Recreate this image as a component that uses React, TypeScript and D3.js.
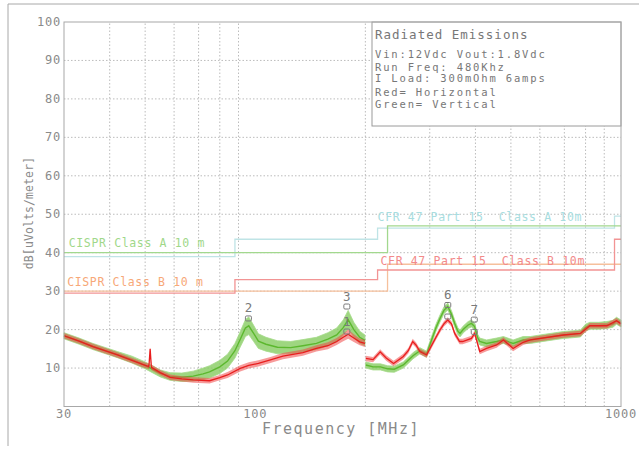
import React from "react";
import * as d3 from "d3";

// ---- Data ----
const xTickLabels = [30, 100, 1000];
const xGrid = [40, 50, 60, 70, 80, 90, 200, 300, 400, 500, 600, 700, 800, 900];
const yTicks = [10, 20, 30, 40, 50, 60, 70, 80, 90, 100];
const yGrid = [10, 20, 30, 40, 50, 60, 70, 80, 90];

// Limit lines [MHz, dB] (step-after)
const cisprA = [[30, 40], [230, 47], [1000, 47]];
const cisprB = [[30, 30], [230, 37], [1000, 37]];
const fccA = [[30, 39], [88, 43.5], [216, 46.4], [960, 49.5], [1000, 49.5]];
const fccB = [[30, 29.5], [88, 33], [216, 35.5], [960, 43.5], [1000, 43.5]];

// Measured traces: [MHz, dB centre, dB noise half-spread]; null = sweep break
const greenVertical: ([number, number, number] | null)[] = [
  [30, 18.4, 0.8], [33, 17.0, 0.8], [36, 15.6, 0.8], [42, 13.5, 0.8], [46, 12.2, 0.9],
  [50, 10.7, 0.9], [55, 8.6, 0.9], [58.5, 7.8, 1.0], [63, 7.6, 1.1], [67.7, 7.9, 1.3],
  [72, 8.5, 1.5], [75, 9.0, 1.6], [80, 10.3, 1.7], [84, 11.8, 1.8], [88, 14.5, 1.9],
  [91, 17.5, 2.0], [94, 20.4, 2.2], [96, 21.0, 2.3], [99, 19.0, 2.1], [102, 17.0, 1.9],
  [107, 16.2, 1.8], [115, 15.4, 1.7], [125, 15.3, 1.6], [135, 15.8, 1.6], [147, 16.4, 1.6],
  [158, 17.5, 1.7], [167, 18.6, 1.8], [174, 20.5, 2.0], [179.5, 22.6, 2.4], [186, 20.0, 1.9],
  [193, 18.0, 1.6], [199.5, 17.2, 1.4],
  null,
  [200.5, 10.8, 0.8], [210, 10.3, 0.8], [220, 10.3, 0.8], [230, 9.8, 0.8], [240, 9.7, 0.8],
  [254, 10.8, 0.8], [262, 12.0, 0.8], [270, 13.2, 0.8], [282, 14.5, 0.8], [294, 13.6, 0.8],
  [304, 17.5, 0.9], [312, 20.5, 0.9], [320, 22.9, 0.9], [328, 25.0, 0.9], [336, 26.0, 0.9],
  [344, 24.0, 0.9], [351, 21.6, 0.9], [358, 19.6, 0.9], [363, 19.0, 0.9], [370, 20.0, 0.9],
  [382, 21.2, 0.9], [390, 21.6, 0.9], [398, 20.8, 0.9], [405, 18.0, 0.9], [411, 16.9, 0.9],
  [429, 16.4, 0.9], [457, 16.9, 0.9], [477, 17.3, 0.9], [507, 16.4, 0.9], [540, 17.3, 0.9],
  [565, 17.3, 0.9], [620, 17.9, 0.9], [696, 18.6, 0.9], [740, 18.8, 0.9], [775, 19.0, 0.9],
  [800, 20.5, 0.9], [822, 21.0, 0.9], [870, 21.0, 0.9], [915, 21.2, 0.9], [950, 21.5, 0.9],
  [972, 22.3, 0.9], [1000, 21.6, 0.9],
];

const redHorizontal: ([number, number, number] | null)[] = [
  [30, 18.4, 0.7], [33, 17.0, 0.7], [36, 15.6, 0.7], [42, 13.4, 0.7], [46, 12.0, 0.7],
  [49, 11.0, 0.7], [51.2, 10.4, 0.7], [51.6, 15.0, 0.3], [52, 10.2, 0.7], [55, 8.8, 0.7],
  [58.5, 7.6, 0.7], [63, 7.2, 0.7], [67.7, 6.9, 0.7], [75, 6.7, 0.7], [80, 7.5, 0.7],
  [84, 8.2, 0.8], [91, 9.9, 0.8], [96, 10.7, 0.8], [102, 11.2, 0.8], [110, 12.1, 0.8],
  [119, 13.1, 0.8], [135, 14.0, 0.8], [147, 15.1, 0.8], [158, 15.8, 0.9], [167, 16.9, 0.9],
  [174, 18.0, 1.0], [179.5, 18.8, 1.2], [186, 17.8, 1.0], [193, 16.8, 0.9], [199.5, 16.4, 0.9],
  null,
  [200.5, 12.5, 0.7], [210, 12.2, 0.7], [219.6, 14.2, 0.7], [228, 12.6, 0.7], [238.9, 11.2, 0.7],
  [254, 13.0, 0.7], [262, 14.5, 0.7], [269.5, 16.9, 0.7], [275, 16.0, 0.7], [282, 14.3, 0.7],
  [294, 13.4, 0.7], [304, 16.0, 0.7], [312, 18.0, 0.7], [320, 19.9, 0.7], [328, 21.5, 0.7],
  [336, 22.5, 0.7], [344, 21.5, 0.7], [351, 19.0, 0.7], [362, 16.9, 0.7], [369, 16.9, 0.7],
  [390, 17.7, 0.7], [398, 19.0, 0.7], [405, 16.5, 0.7], [411, 14.3, 0.7], [429, 15.1, 0.7],
  [457, 16.0, 0.7], [477, 17.3, 0.7], [507, 15.1, 0.7], [540, 16.7, 0.7], [565, 17.3, 0.7],
  [696, 18.6, 0.7], [775, 19.0, 0.7], [822, 21.0, 0.7], [915, 21.0, 0.7], [972, 22.3, 0.7],
  [1000, 21.5, 0.7],
];

// Markers
const markerFreq = [95.8, 178, 178, 336, 336, 397, 397];
const markerDb = [22.9, 26.0, 19.5, 26.4, 23.4, 22.6, 19.4];
const markerLabel = ["2", "3", "1", "6", "", "7", ""];

// Limit labels
const limitLabels = [
  { text: "CISPR Class A 10 m", f: 30.9, db: 42.5, color: "#9fd88a" },
  { text: "CISPR Class B 10 m", f: 30.6, db: 32.5, color: "#f7a878" },
  { text: "CFR 47 Part 15  Class A 10m", f: 216, db: 49.3, color: "#a8dde0" },
  { text: "CFR 47 Part 15  Class B 10m", f: 220, db: 37.8, color: "#f28a8a" },
];

const infoTitle = "Radiated Emissions";
const infoLines = [
  "Vin:12Vdc Vout:1.8Vdc",
  "Run Freq: 480Khz",
  "I Load: 300mOhm 6amps",
  "Red= Horizontal",
  "Green= Vertical",
];

const FONT = "'DejaVu Sans Mono', monospace";

export default function App() {
  const W = 639, H = 458;
  const x = d3.scaleLog().domain([30, 1000]).range([64, 621]);
  const y = d3.scaleLinear().domain([0, 100]).range([406.5, 22]);
  const [x0, x1] = x.range();
  const [y0, y1] = y.range();

  const step = d3.line<number[]>().x(d => x(d[0])).y(d => y(d[1])).curve(d3.curveStepAfter);

  type P = [number, number, number] | null;
  const area = d3.area<P>()
    .defined(d => d !== null)
    .x(d => x((d as any)[0]))
    .y0(d => y((d as any)[1] - (d as any)[2]))
    .y1(d => y((d as any)[1] + (d as any)[2]));
  const line = d3.line<P>()
    .defined(d => d !== null)
    .x(d => x((d as any)[0]))
    .y(d => y((d as any)[1]));

  const gridColor = "#b4b4b4";
  const textColor = "#8a8a8a";
  const infoY = [54.3, 66.7, 78.3, 91.7, 104.3];

  return (
    <svg width={W} height={H} style={{ position: "absolute", left: 0, top: 0, background: "#fff" }}
      fontFamily={FONT}>
      {/* outer frame */}
      <line x1={8} y1={4} x2={W} y2={4} stroke="#a8a8a8" />
      <line x1={8} y1={4} x2={8} y2={446} stroke="#a8a8a8" />

      {/* grid */}
      {xGrid.map(f => (
        <line key={"gx" + f} x1={x(f)} x2={x(f)} y1={y0} y2={y1} stroke={gridColor}
          strokeDasharray="1.5,2" strokeWidth={0.9} />
      ))}
      {yGrid.map(v => (
        <line key={"gy" + v} x1={x0} x2={x1} y1={y(v)} y2={y(v)} stroke={gridColor}
          strokeDasharray="1.5,2" strokeWidth={0.9} />
      ))}

      {/* info box */}
      <rect x={372} y={y1} width={x1 - 372} height={126 - y1} fill="#fff" stroke="#9a9a9a" />
      <text x={375} y={34} dominantBaseline="central" fontSize={12.5} letterSpacing={1.0} fill="#777">
        {infoTitle}
      </text>
      {infoLines.map((t, i) => (
        <text key={t} x={375} y={infoY[i]} dominantBaseline="central"
          fontSize={10.5} letterSpacing={1.85} fill="#777">{t}</text>
      ))}

      {/* limit lines */}
      <path d={step(fccA as any) || ""} fill="none" stroke="#bfe4e6" strokeWidth={1.3} />
      <path d={step(cisprA as any) || ""} fill="none" stroke="#a2d88e" strokeWidth={1.3} />
      <path d={step(cisprB as any) || ""} fill="none" stroke="#f6c09c" strokeWidth={1.3} />
      <path d={step(fccB as any) || ""} fill="none" stroke="#f29494" strokeWidth={1.3} />

      {limitLabels.map(l => (
        <text key={l.text} x={x(l.f)} y={y(l.db)} dominantBaseline="central" fontSize={11.5}
          letterSpacing={0.65} fill={l.color} style={{ whiteSpace: "pre" }}>
          {l.text}
        </text>
      ))}

      {/* traces */}
      <path d={area(greenVertical) || ""} fill="#86cc60" fillOpacity={0.8} stroke="#a6da8a" strokeWidth={0.8} />
      <path d={line(greenVertical) || ""} fill="none" stroke="#5cb82e" strokeWidth={1.4} />
      <path d={area(redHorizontal) || ""} fill="#f04848" fillOpacity={0.55} />
      <path d={line(redHorizontal) || ""} fill="none" stroke="#e81e1e" strokeWidth={1.3} />

      {/* markers */}
      {markerFreq.map((f, i) => (
        <g key={"m" + i}>
          <rect x={x(f) - 3} y={y(markerDb[i]) - 2.5} width={6} height={5} rx={1.2}
            fill="none" stroke="#7a7a7a" strokeWidth={1} />
          {markerLabel[i] && (
            <text x={x(f)} y={y(markerDb[i]) - 10.5} textAnchor="middle" dominantBaseline="central"
              fontSize={12.5} fill="#7a7a7a">{markerLabel[i]}</text>
          )}
        </g>
      ))}

      {/* plot frame */}
      <rect x={x0} y={y1} width={x1 - x0} height={y0 - y1} fill="none" stroke="#a8a8a8" strokeWidth={1} />

      {/* y tick labels */}
      {yTicks.map(v => (
        <text key={"yt" + v} x={61} y={y(v)} textAnchor="end" dominantBaseline="central"
          fontSize={12} letterSpacing={0.8} fill={textColor}>{v}</text>
      ))}
      {/* x tick labels */}
      {xTickLabels.map(f => (
        <text key={"xt" + f} x={x(f)} y={413.5} textAnchor="middle" dominantBaseline="central"
          fontSize={12} letterSpacing={0.8} fill={textColor}>{f}</text>
      ))}

      {/* axis titles */}
      <text x={262} y={429} dominantBaseline="central" fontSize={15} letterSpacing={1.5}
        fill={textColor}>Frequency [MHz]</text>
      <text transform={`translate(29,213) rotate(-90)`} textAnchor="middle" dominantBaseline="central"
        fontSize={11.5} letterSpacing={0.1} fill={textColor}>dB[uVolts/meter]</text>
    </svg>
  );
}
